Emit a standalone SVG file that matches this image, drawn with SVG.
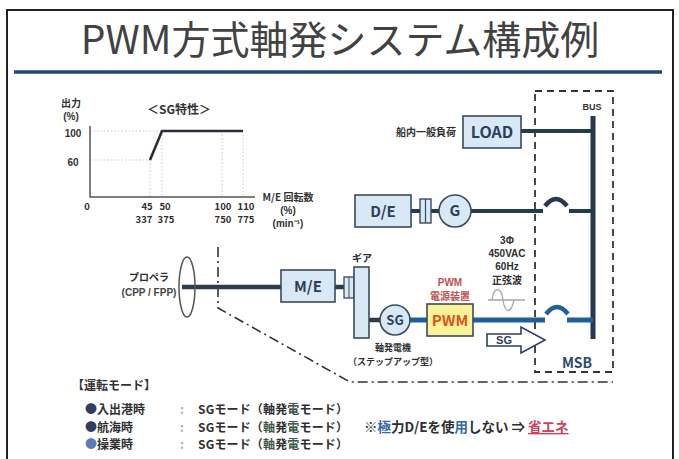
<svg xmlns="http://www.w3.org/2000/svg" width="679" height="459" viewBox="0 0 679 459">
  <defs>
    <style>
      text { font-family: "Noto Sans CJK JP", "Noto Sans", "Liberation Sans", sans-serif; fill: #2e2e2e; }
      .lat { font-family: "Liberation Sans", Arial, sans-serif; }
      .title { font-size: 39px; fill: #424242; }
      .lbl { font-size: 10px; font-weight: bold; }
      .sm { font-size: 9px; font-weight: bold; }
      .ax { font-size: 10px; font-weight: bold; fill: #333; }
      .box { fill: #d8e8f4; stroke: #3b4a5c; stroke-width: 1.6; }
      .boxtxt { font-size: 15px; font-weight: bold; fill: #2d3e5a; text-anchor: middle; }
      .shaft { stroke: #2c3d50; stroke-width: 4.5; fill: none; }
      .navy { stroke: #27394f; stroke-width: 4; fill: none; stroke-linecap: butt; }
      .blue { stroke: #1f5fa0; stroke-width: 5; fill: none; }
      .grid { stroke: #c8c8c8; stroke-width: 1; stroke-dasharray: 1.5 2; fill: none; }
      .mode { font-size: 12px; font-weight: bold; fill: #2f2f2f; }
    </style>
  </defs>

  <rect width="679" height="459" fill="#ffffff"/>

  <!-- page frame and heading -->
  <rect x="7" y="10" width="666" height="470" fill="none" stroke="#222" stroke-width="2"/>
  <text class="title" x="340" y="54" text-anchor="middle">PWM方式軸発システム構成例</text>
  <line x1="14" y1="72" x2="662" y2="72" stroke="#24466f" stroke-width="3.5"/>

  <!-- SG characteristic chart -->
  <g id="sg-chart">
    <text class="ax" x="71" y="107" text-anchor="middle">出力</text>
    <text class="ax lat" x="71" y="120" text-anchor="middle">(%)</text>
    <text x="179" y="114" text-anchor="middle" style="font-size:12px;font-weight:bold;fill:#333">＜SG特性＞</text>
    <text class="ax lat" x="73" y="137" text-anchor="middle">100</text>
    <text class="ax lat" x="73" y="166" text-anchor="middle">60</text>
    <path class="grid" d="M90,131 H162 M90,160 H150 M150,160 V197 M162,131 V197 M222,131 V197 M243,131 V197"/>
    <path d="M90,126 V197 H255" fill="none" stroke="#555" stroke-width="1.5"/>
    <path d="M150,160 L162,131 H243" fill="none" stroke="#2a2f3a" stroke-width="2.6"/>
    <g class="lat" text-anchor="middle" style="font-size:9.5px;font-weight:bold;fill:#333">
      <text x="87" y="210">0</text>
      <text x="147" y="210">45</text>
      <text x="165" y="210">50</text>
      <text x="223" y="210">100</text>
      <text x="246" y="210">110</text>
      <text x="144" y="223">337</text>
      <text x="166" y="223">375</text>
      <text x="223" y="223">750</text>
      <text x="246" y="223">775</text>
    </g>
    <text class="ax" x="288" y="201" text-anchor="middle">M/E 回転数</text>
    <text class="ax lat" x="288" y="214" text-anchor="middle">(%)</text>
    <text class="ax lat" x="288" y="227" text-anchor="middle">(min⁻¹)</text>
  </g>

  <!-- connectors -->
  <g id="connectors">
    <!-- engine room boundary (dash-dot) -->
    <path d="M218,247 V308 L350,382 H613" fill="none" stroke="#333" stroke-width="1.6" stroke-dasharray="10 4 2 4"/>
    <!-- switchboard boundary -->
    <rect x="535" y="91" width="78" height="281" fill="none" stroke="#333" stroke-width="1.8" stroke-dasharray="7 5"/>
    <!-- bus bar -->
    <line x1="593" y1="116" x2="593" y2="339" stroke="#27394f" stroke-width="5"/>
    <!-- general load feeder -->
    <line class="navy" x1="521" y1="131" x2="593" y2="131"/>
    <!-- D/E generator feeder with breaker -->
    <line class="navy" x1="411" y1="211" x2="421" y2="211"/>
    <line class="navy" x1="430" y1="211" x2="440" y2="211"/>
    <line class="navy" x1="471" y1="211" x2="543" y2="211"/>
    <path d="M545,206 Q556,192 567,206" fill="none" stroke="#27394f" stroke-width="4.5"/>
    <line class="navy" x1="569" y1="211" x2="593" y2="211"/>
    <!-- propulsion shafting -->
    <line class="shaft" x1="182" y1="287" x2="281" y2="287" stroke="#223650" stroke-width="5"/>
    <line class="shaft" x1="335" y1="287" x2="345" y2="287"/>
    <line class="shaft" x1="369" y1="320" x2="381" y2="320"/>
    <!-- shaft generator feeder with breaker -->
    <line class="blue" x1="410" y1="320" x2="428" y2="320"/>
    <line class="blue" x1="473" y1="320" x2="545" y2="320"/>
    <path d="M546,314 Q557,300 568,314" fill="none" stroke="#1f5fa0" stroke-width="4.5"/>
    <line class="blue" x1="567" y1="320" x2="593" y2="320"/>
    <!-- sine waveform symbol -->
    <line x1="488" y1="300" x2="525" y2="300" stroke="#777" stroke-width="1"/>
    <path d="M492,300 C494,286 501,286 503,300 C505,314 511,314 514,300" fill="none" stroke="#aaa" stroke-width="1.3"/>
    <!-- SG power flow arrow -->
    <polygon points="487,334 521,334 521,327 545,340 521,353 521,346 487,346" fill="#fff" stroke="#2b3d6b" stroke-width="1.6"/>
    <text class="lat" x="504" y="344" text-anchor="middle" style="font-size:11px;font-weight:bold;fill:#2b3d5a">SG</text>
  </g>

  <g id="load">
    <text class="lbl" x="426" y="136" text-anchor="middle">船内一般負荷</text>
    <rect class="box" x="463" y="116" width="58" height="32"/>
    <text class="boxtxt" x="492" y="138" style="font-size:16px">LOAD</text>
  </g>

  <g id="de">
    <rect class="box" x="355" y="195" width="56" height="32"/>
    <text class="boxtxt" x="383" y="217">D/E</text>
  </g>

  <g id="de-coupling">
    <rect x="420" y="199" width="11" height="24" fill="#d8e8f4" stroke="#3b4a5c" stroke-width="1.4"/>
    <line x1="425.5" y1="199" x2="425.5" y2="223" stroke="#3b4a5c" stroke-width="1.2"/>
  </g>

  <g id="generator">
    <circle cx="455" cy="211" r="16" fill="#d8e8f4" stroke="#3b4a5c" stroke-width="1.6"/>
    <text class="boxtxt" x="455" y="216">G</text>
  </g>

  <g id="bus">
    <text class="lat" x="592" y="110" text-anchor="middle" style="font-size:9px;font-weight:bold;fill:#333">BUS</text>
  </g>

  <g id="msb">
    <text x="577" y="368" text-anchor="middle" style="font-size:14px;font-weight:bold;fill:#2d4a70">MSB</text>
  </g>

  <g id="propeller">
    <ellipse cx="187" cy="287" rx="8" ry="30" fill="none" stroke="#555" stroke-width="1.5"/>
    <text class="lbl" x="149" y="281" text-anchor="middle">プロペラ</text>
    <text class="lbl lat" x="149" y="296" text-anchor="middle" style="fill:#444">(CPP / FPP)</text>
  </g>

  <g id="me">
    <rect class="box" x="281" y="270" width="54" height="32"/>
    <text class="boxtxt" x="308" y="292">M/E</text>
  </g>

  <g id="gear">
    <rect x="344" y="277" width="10" height="21" fill="#d8e8f4" stroke="#3b4a5c" stroke-width="1.3"/>
    <line x1="349" y1="277" x2="349" y2="298" stroke="#3b4a5c" stroke-width="1"/>
    <rect class="box" x="354" y="267" width="15" height="71"/>
    <text class="lbl" x="362" y="262" text-anchor="middle">ギア</text>
  </g>

  <g id="sg">
    <circle cx="395" cy="320" r="15" fill="#d8e8f4" stroke="#3b4a5c" stroke-width="1.6"/>
    <text x="395" y="325" text-anchor="middle" style="font-size:13px;font-weight:bold;fill:#2d3e5a">SG</text>
    <text class="sm" x="393" y="351" text-anchor="middle">軸発電機</text>
    <text class="sm" x="393" y="365" text-anchor="middle">（ステップアップ型）</text>
  </g>

  <g id="pwm">
    <text class="lat" x="450" y="286" text-anchor="middle" style="font-size:10px;font-weight:bold;fill:#c0504d">PWM</text>
    <text x="450" y="300" text-anchor="middle" style="font-size:10px;font-weight:bold;fill:#c0504d">電源装置</text>
    <rect x="427" y="304" width="46" height="32" fill="#fbf39a" stroke="#3b4a5c" stroke-width="1.6"/>
    <text x="450" y="326" text-anchor="middle" style="font-size:15px;font-weight:bold;fill:#d9541e">PWM</text>
  </g>

  <g id="supply-spec">
    <text class="lbl lat" x="507" y="244" text-anchor="middle">3Φ</text>
    <text class="lbl lat" x="507" y="257" text-anchor="middle">450VAC</text>
    <text class="lbl lat" x="507" y="270" text-anchor="middle">60Hz</text>
    <text class="lbl" x="507" y="284" text-anchor="middle">正弦波</text>
  </g>

  <!-- operating modes -->
  <g id="modes">
    <text x="72" y="390" style="font-size:12px;font-weight:bold;fill:#333">【運転モード】</text>
    <text class="mode" x="85" y="414"><tspan fill="#2d3e5e">●</tspan>入出港時</text>
    <text class="mode" x="85" y="431.5"><tspan fill="#2d3e5e">●</tspan>航海時</text>
    <text class="mode" x="85" y="449"><tspan fill="#5b7db5">●</tspan>操業時</text>
    <text class="mode" x="180" y="414" style="fill:#aaa">:</text>
    <text class="mode" x="180" y="431.5" style="fill:#aaa">:</text>
    <text class="mode" x="180" y="449" style="fill:#aaa">:</text>
    <text class="mode" x="198" y="414" textLength="150">SGモード（軸発<tspan fill="#3f5346">電</tspan>モード）</text>
    <text class="mode" x="198" y="431.5" textLength="150">SGモード（<tspan fill="#3f5a4a">軸</tspan>発<tspan fill="#3f5a4a">電</tspan>モード）</text>
    <text class="mode" x="198" y="449" textLength="150">SGモード（<tspan fill="#3f5a4a">軸</tspan>発<tspan fill="#3f5a4a">電</tspan>モード）</text>
    <text class="mode" x="364" y="432" style="font-size:13.5px">※<tspan fill="#2f6aa5">極</tspan>力D/Eを使<tspan fill="#2f6aa5">用</tspan>しない ⇒ <tspan fill="#d0405a" text-decoration="underline">省エネ</tspan></text>
  </g>
</svg>
